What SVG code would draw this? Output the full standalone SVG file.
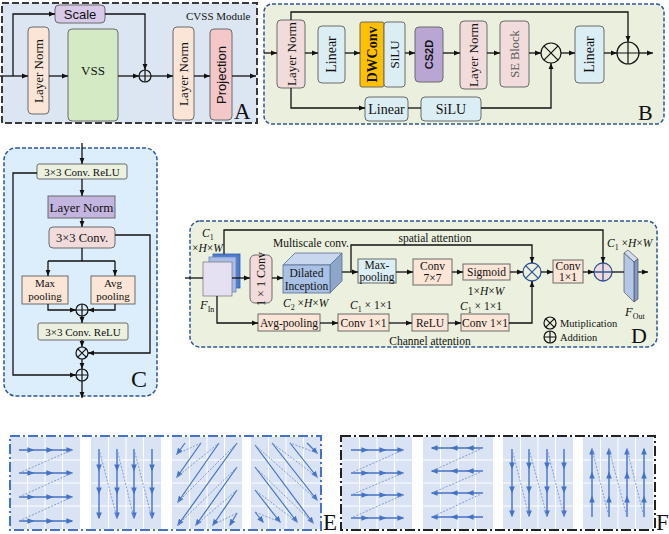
<svg xmlns="http://www.w3.org/2000/svg" width="669" height="534" viewBox="0 0 669 534">
<defs>
<style>
.sf{font-family:"Liberation Serif","Times New Roman",serif;fill:#111}
.ss{font-family:"Liberation Sans",Arial,sans-serif;fill:#111}
.c{text-anchor:middle}
.bx{stroke:#6b6b6b;stroke-width:1}
.ln{fill:none;stroke:#111;stroke-width:1.3}
.lna{fill:none;stroke:#111;stroke-width:1.3;marker-end:url(#ah)}
.ba{fill:none;stroke:#4472c4;stroke-width:1.4;marker-mid:url(#bh);marker-end:url(#bh)}
.bs{fill:none;stroke:#4472c4;stroke-width:1.2;marker-end:url(#bh)}
.bd{fill:none;stroke:#7f9bd6;stroke-width:1;stroke-dasharray:2 1.5}
.sym{fill:none;stroke:#111;stroke-width:1.2}
.dsym{fill:none;stroke:#2f5597;stroke-width:1.3}
</style>
<marker id="ah" viewBox="0 0 10 10" refX="10" refY="5" markerWidth="6" markerHeight="6" orient="auto" markerUnits="userSpaceOnUse"><path d="M0,1 L10,5 L0,9 z" fill="#111"/></marker>
<marker id="bh" viewBox="0 0 10 10" refX="8" refY="5" markerWidth="7" markerHeight="7" orient="auto" markerUnits="userSpaceOnUse"><path d="M0,1 L10,5 L0,9 z" fill="#4472c4"/></marker>
<g id="grid"><rect width="70" height="92" fill="#dae3f3"/><path d="M17.5,0V92M35,0V92M52.5,0V92M0,23H70M0,46H70M0,69H70" stroke="#fff" stroke-width="1"/></g>
</defs>
<rect width="669" height="534" fill="#fff"/>

<!-- Panel A -->
<g id="panelA">
<rect x="2" y="3" width="255" height="120" fill="#dce6f2" stroke="#3a3a3a" stroke-width="2" stroke-dasharray="7 3"/>
<text class="sf" x="186" y="20" font-size="11">CVSS Module</text>
<text class="sf" x="234" y="119" font-size="23">A</text>
</g>
<g id="A_scale"><rect class="bx" x="55" y="5" width="50" height="18" rx="4" fill="#d9c9e9"/><text class="ss c" x="80" y="19" font-size="13">Scale</text></g>
<g id="A_ln1"><rect class="bx" x="28" y="27" width="21" height="87" rx="4" fill="#fbe5d6"/><text class="sf c" x="38.5" y="71" font-size="13" dominant-baseline="central" transform="rotate(-90 38.5 71)">Layer Norm</text></g>
<g id="A_vss"><rect class="bx" x="68" y="29" width="50" height="92" rx="4" fill="#d3eac5"/><text class="sf c" x="93" y="75" font-size="13">VSS</text></g>
<g id="A_plus"><circle class="sym" cx="145" cy="76" r="6"/><path class="sym" d="M139,76H151M145,70V82"/></g>
<g id="A_ln2"><rect class="bx" x="173" y="27" width="21" height="93" rx="4" fill="#fbe5d6"/><text class="sf c" x="183.5" y="74" font-size="13" dominant-baseline="central" transform="rotate(-90 183.5 74)">Layer Norm</text></g>
<g id="A_proj"><rect class="bx" x="210" y="29" width="22" height="91" rx="4" fill="#f4c7c9"/><text class="ss c" x="221" y="75" font-size="13" dominant-baseline="central" transform="rotate(-90 221 75)">Projection</text></g>

<!-- Panel B -->
<g id="panelB">
<rect x="264" y="4" width="400" height="120" rx="8" fill="#ebf0de" stroke="#2f5597" stroke-width="1.5" stroke-dasharray="4 2"/>
<text class="sf" x="638" y="120" font-size="22">B</text>
</g>
<g id="B_ln1"><rect class="bx" x="277" y="20" width="28" height="68" rx="4" fill="#f2dcdb"/><text class="sf c" x="291" y="54" font-size="13" dominant-baseline="central" transform="rotate(-90 291 54)">Layer Norm</text></g>
<g id="B_lin1"><rect class="bx" x="318" y="26" width="27" height="57" rx="4" fill="#dbeef4"/><text class="sf c" x="331.5" y="54.5" font-size="14" dominant-baseline="central" transform="rotate(-90 331.5 54.5)">Linear</text></g>
<g id="B_dwconv"><rect class="bx" x="360" y="22" width="24" height="65" rx="2" fill="#ffc000"/><text class="sf c" x="372" y="54.5" font-size="14" font-weight="bold" dominant-baseline="central" transform="rotate(-90 372 54.5)">DWConv</text></g>
<g id="B_silu1"><rect class="bx" x="384" y="22" width="21" height="65" rx="3" fill="#dbeef4"/><text class="sf c" x="394.5" y="54.5" font-size="13" dominant-baseline="central" transform="rotate(-90 394.5 54.5)">SiLU</text></g>
<g id="B_cs2d"><rect class="bx" x="415" y="27" width="28" height="55" rx="4" fill="#b9a6d4"/><text class="ss c" x="429" y="54.5" font-size="11" font-weight="bold" dominant-baseline="central" transform="rotate(-90 429 54.5)">CS2D</text></g>
<g id="B_ln2"><rect class="bx" x="460" y="21" width="27" height="68" rx="4" fill="#f2dcdb"/><text class="sf c" x="473.5" y="55" font-size="13" dominant-baseline="central" transform="rotate(-90 473.5 55)">Layer Norm</text></g>
<g id="B_se"><rect class="bx" x="500" y="21" width="29" height="66" rx="4" fill="#f2dcdb"/><text class="sf c" x="514.5" y="54" font-size="12.5" style="fill:#555" dominant-baseline="central" transform="rotate(-90 514.5 54)">SE Block</text></g>
<g id="B_mul"><circle class="sym" cx="551" cy="53" r="10" fill="#fff"/><path class="sym" d="M543.9,45.9L558.1,60.1M558.1,45.9L543.9,60.1"/></g>
<g id="B_lin2"><rect class="bx" x="575" y="26" width="29" height="57" rx="4" fill="#dbeef4"/><text class="sf c" x="589.5" y="54.5" font-size="14" dominant-baseline="central" transform="rotate(-90 589.5 54.5)">Linear</text></g>
<g id="B_add"><circle class="sym" cx="628" cy="53" r="11" fill="#fff"/><path class="sym" d="M617,53H639M628,42V64"/></g>
<g id="B_lin3"><rect class="bx" x="365" y="97" width="43" height="24" rx="4" fill="#dbeef4"/><text class="sf c" x="386.5" y="113.5" font-size="14">Linear</text></g>
<g id="B_silu2"><rect class="bx" x="421" y="97" width="60" height="24" rx="4" fill="#dbeef4"/><text class="sf c" x="451" y="113.5" font-size="14">SiLU</text></g>

<!-- Panel C -->
<g id="panelC">
<rect x="4" y="148" width="153" height="248" rx="12" fill="#dceefb" stroke="#2f5597" stroke-width="1.5" stroke-dasharray="4 2"/>
<text class="sf" x="131" y="387" font-size="24">C</text>
</g>
<g id="C_conv1"><rect class="bx" x="37" y="164" width="90" height="15" rx="2" fill="#ebf1de"/><text class="sf c" x="82" y="175.5" font-size="11">3×3 Conv. ReLU</text></g>
<g id="C_ln"><rect class="bx" x="48" y="196" width="67" height="22" fill="#c3b5df"/><text class="sf c" x="81.5" y="211.5" font-size="13">Layer Norm</text></g>
<g id="C_conv"><rect class="bx" x="49" y="227" width="66" height="21" rx="4" fill="#f2dcdb"/><text class="sf c" x="82" y="242" font-size="12.5">3×3 Conv.</text></g>
<g id="C_max"><rect class="bx" x="22" y="276" width="46" height="28" fill="#fbe5d6"/><text class="sf c" x="45" y="286.5" font-size="11">Max</text><text class="sf c" x="45" y="300" font-size="11">pooling</text></g>
<g id="C_avg"><rect class="bx" x="91" y="276" width="44" height="28" fill="#fbe5d6"/><text class="sf c" x="113" y="286.5" font-size="11">Avg</text><text class="sf c" x="113" y="300" font-size="11">pooling</text></g>
<g id="C_add1"><circle class="sym" cx="82" cy="310" r="6"/><path class="sym" d="M76,310H88M82,304V316"/></g>
<g id="C_conv2"><rect class="bx" x="38" y="323" width="90" height="17" rx="2" fill="#ebf1de"/><text class="sf c" x="83" y="335.5" font-size="11">3×3 Conv. ReLU</text></g>
<g id="C_mul"><circle class="sym" cx="82" cy="353" r="6"/><path class="sym" d="M77.8,348.8L86.2,357.2M86.2,348.8L77.8,357.2"/></g>
<g id="C_add2"><circle class="sym" cx="82" cy="375" r="6"/><path class="sym" d="M76,375H88M82,369V381"/></g>

<!-- Panel D -->
<g id="panelD">
<rect x="190" y="221" width="467" height="126" rx="10" fill="#ebf1de" stroke="#2f5597" stroke-width="1.5" stroke-dasharray="4 2"/>
<text class="sf" x="631" y="343" font-size="22">D</text>
<text class="sf" x="202" y="237" font-size="11.5"><tspan font-style="italic">C</tspan><tspan font-size="8" dy="3">1</tspan></text>
<text class="sf" x="192" y="252" font-size="11.5">×<tspan font-style="italic">H</tspan>×<tspan font-style="italic">W</tspan></text>
<text class="sf" x="200" y="309" font-size="12.5"><tspan font-style="italic">F</tspan><tspan font-size="8" dy="3">In</tspan></text>
<text class="sf" x="273" y="247" font-size="11.5">Multiscale conv.</text>
<text class="sf" x="283" y="307" font-size="11.5"><tspan font-style="italic">C</tspan><tspan font-size="8" dy="3">2</tspan><tspan dy="-3"> ×</tspan><tspan font-style="italic">H</tspan>×<tspan font-style="italic">W</tspan></text>
<text class="sf c" x="435" y="242" font-size="11.5">spatial attention</text>
<text class="sf c" x="486" y="295" font-size="11.5">1×<tspan font-style="italic">H</tspan>×<tspan font-style="italic">W</tspan></text>
<text class="sf" x="350" y="309" font-size="11.5"><tspan font-style="italic">C</tspan><tspan font-size="8" dy="3">1</tspan><tspan dy="-3"> × 1×1</tspan></text>
<text class="sf" x="460" y="310" font-size="11.5"><tspan font-style="italic">C</tspan><tspan font-size="8" dy="3">1</tspan><tspan dy="-3"> × 1×1</tspan></text>
<text class="sf c" x="430" y="345" font-size="11.5">Channel attention</text>
<text class="sf" x="607" y="247" font-size="11.5"><tspan font-style="italic">C</tspan><tspan font-size="8" dy="3">1</tspan><tspan dy="-3"> ×</tspan><tspan font-style="italic">H</tspan>×<tspan font-style="italic">W</tspan></text>
<text class="sf" x="625" y="316" font-size="12.5"><tspan font-style="italic">F</tspan><tspan font-size="8" dy="3">Out</tspan></text>
<circle class="sym" cx="550" cy="323" r="6"/><path class="sym" d="M545.8,318.8L554.2,327.2M554.2,318.8L545.8,327.2"/>
<text class="sf" x="560" y="327" font-size="10.5">Mutiplication</text>
<circle class="sym" cx="550" cy="337" r="6"/><path class="sym" d="M544,337H556M550,331V343"/>
<text class="sf" x="560" y="341" font-size="10.5">Addition</text>
</g>
<g id="D_fin">
<rect x="213" y="254" width="27" height="34" fill="#4f7bd0" stroke="#3b5ea8" stroke-width="0.8"/>
<rect x="209" y="257" width="27" height="35" fill="#a9bce6" stroke="#6d86bf" stroke-width="0.8"/>
<rect x="203" y="262" width="29" height="34" fill="#e6e0f3" stroke="#7f7f7f" stroke-width="0.8"/>
</g>
<g id="D_conv1x1"><rect class="bx" x="250" y="255" width="22" height="48" rx="5" fill="#f2dcdb"/><text class="sf c" x="261" y="279" font-size="12" dominant-baseline="central" transform="rotate(-90 261 279)">1 × 1 Conv</text></g>
<g id="D_incep">
<polygon points="283,265 295,253 342,253 330,265" fill="#c9d7ee" stroke="#5a6f8f" stroke-width="0.8"/>
<polygon points="330,265 342,253 342,281 330,293" fill="#8ea6c9" stroke="#5a6f8f" stroke-width="0.8"/>
<rect x="283" y="265" width="47" height="28" fill="#a9c1e5" stroke="#5a6f8f" stroke-width="0.8"/>
<text class="sf c" x="306.5" y="277" font-size="11.5">Dilated</text><text class="sf c" x="306.5" y="290" font-size="11.5">Inception</text>
</g>
<g id="D_maxpool"><rect class="bx" x="358" y="259" width="38" height="24" fill="#dbeef4"/><text class="sf c" x="377" y="269" font-size="11.5">Max-</text><text class="sf c" x="377" y="281" font-size="11.5">pooling</text></g>
<g id="D_conv7"><rect class="bx" x="413" y="259" width="39" height="26" fill="#fbe5d6"/><text class="sf c" x="432.5" y="270" font-size="11.5">Conv</text><text class="sf c" x="432.5" y="282" font-size="11.5">7×7</text></g>
<g id="D_sig"><rect class="bx" x="463" y="264" width="47" height="16" fill="#fbe5d6"/><text class="sf c" x="486.5" y="276" font-size="11.5">Sigmoid</text></g>
<g id="D_mul"><circle class="dsym" cx="532" cy="272" r="9"/><path class="dsym" d="M525.6,265.6L538.4,278.4M538.4,265.6L525.6,278.4"/></g>
<g id="D_conv1b"><rect class="bx" x="553" y="260" width="30" height="23" fill="#fbe5d6"/><text class="sf c" x="568" y="270" font-size="11.5">Conv</text><text class="sf c" x="568" y="281" font-size="11.5">1×1</text></g>
<g id="D_add"><circle cx="603" cy="272" r="9" fill="#f2dcdb" stroke="#2f5597" stroke-width="1.3"/><path class="dsym" d="M594,272H612M603,263V281"/></g>
<g id="D_fout">
<polygon points="624,253 628,250 638,259 634,262" fill="#d0dcf0" stroke="#555" stroke-width="0.7"/>
<polygon points="634,262 638,259 638,299 634,302" fill="#7f9bd0" stroke="#555" stroke-width="0.7"/>
<polygon points="624,253 634,262 634,302 624,292" fill="#b4c7e7" stroke="#555" stroke-width="0.7"/>
</g>
<g id="D_avg"><rect class="bx" x="258" y="314" width="62" height="17" fill="#fbe5d6"/><text class="sf c" x="289" y="326.5" font-size="11.5">Avg-pooling</text></g>
<g id="D_c1"><rect class="bx" x="338" y="314" width="51" height="17" fill="#fbe5d6"/><text class="sf c" x="363.5" y="326.5" font-size="11.5">Conv 1×1</text></g>
<g id="D_relu"><rect class="bx" x="412" y="314" width="36" height="17" fill="#fbe5d6"/><text class="sf c" x="430" y="326.5" font-size="11.5">ReLU</text></g>
<g id="D_c2"><rect class="bx" x="461" y="314" width="48" height="17" fill="#fbe5d6"/><text class="sf c" x="485" y="326.5" font-size="11.5">Conv 1×1</text></g>

<!-- Connectors -->
<g id="connectors">
<path class="lna" d="M0,76H28"/>
<path class="lna" d="M13,76V14H55"/>
<path class="lna" d="M49,76H68"/>
<path class="lna" d="M118,76H139"/>
<path class="lna" d="M105,14H145V70"/>
<path class="lna" d="M151,76H173"/>
<path class="lna" d="M194,76H210"/>
<path class="lna" d="M232,76H256"/>
<path class="lna" d="M264,53H277"/>
<path class="lna" d="M305,53H318"/>
<path class="lna" d="M345,53H360"/>
<path class="lna" d="M405,53H415"/>
<path class="lna" d="M443,53H460"/>
<path class="lna" d="M487,53H500"/>
<path class="lna" d="M529,53H541"/>
<path class="lna" d="M561,53H575"/>
<path class="lna" d="M604,53H617"/>
<path class="lna" d="M639,53H653"/>
<path class="lna" d="M291,20V12H628V42"/>
<path class="lna" d="M291,88V108H365"/>
<path class="ln" d="M408,108H421"/>
<path class="lna" d="M481,108H551V63"/>
<path class="lna" d="M82,143V164"/>
<path class="lna" d="M82,179V196"/>
<path class="lna" d="M82,218V227"/>
<path class="ln" d="M82,248V261M48,261H115"/>
<path class="lna" d="M48,261V276"/>
<path class="lna" d="M115,261V276"/>
<path class="lna" d="M48,304V310H76"/>
<path class="lna" d="M115,304V310H88"/>
<path class="lna" d="M82,316V323"/>
<path class="lna" d="M82,340V347"/>
<path class="lna" d="M115,235H150V353H88"/>
<path class="lna" d="M37,173H13V375H76"/>
<path class="lna" d="M82,359V369"/>
<path class="lna" d="M82,381V398"/>
<path class="ln" d="M185,278H203"/>
<path class="lna" d="M232,278H250"/>
<path class="lna" d="M272,278H283"/>
<path class="lna" d="M224,254V230H603V263"/>
<path class="lna" d="M342,272H358"/>
<path class="lna" d="M351,272V245H532V263"/>
<path class="lna" d="M396,272H413"/>
<path class="lna" d="M452,272H463"/>
<path class="lna" d="M510,272H523"/>
<path class="lna" d="M541,272H553"/>
<path class="lna" d="M583,272H594"/>
<path class="ln" d="M612,272H624"/>
<path class="lna" d="M638,272H648"/>
<path class="lna" d="M217,296V323H258"/>
<path class="lna" d="M320,323H338"/>
<path class="lna" d="M389,323H412"/>
<path class="lna" d="M448,323H461"/>
<path class="lna" d="M509,323H532V281"/>
</g>

<!-- Panel E -->
<g id="panelE">
<use href="#grid" x="10" y="437"/>
<use href="#grid" x="91" y="437"/>
<use href="#grid" x="172" y="437"/>
<use href="#grid" x="251" y="437"/>
<g transform="translate(10,437)">
<polyline class="ba" points="9,13 23,13 42,13 62,13"/>
<polyline class="ba" points="9,36 23,36 42,36 62,36"/>
<polyline class="ba" points="9,60 23,60 42,60 62,60"/>
<polyline class="ba" points="9,84 23,84 42,84 62,84"/>
<path class="bd" d="M62,13L9,36M62,36L9,60M62,60L9,84"/>
</g>
<g transform="translate(91,437)">
<polyline class="ba" points="8,12 8,33 8,56 8,81"/>
<polyline class="ba" points="26,12 26,33 26,56 26,81"/>
<polyline class="ba" points="43,12 43,33 43,56 43,81"/>
<polyline class="ba" points="61,12 61,33 61,56 61,81"/>
<path class="bd" d="M8,12L26,81M26,12L43,81M43,12L61,81"/>
</g>
<g transform="translate(172,437)">
<path class="bs" d="M13,6L5,17"/>
<path class="bs" d="M29,6L5,40"/>
<path class="bs" d="M47,6L6,65"/>
<path class="bs" d="M65,6L6,88"/>
<path class="bs" d="M65,30L24,88"/>
<path class="bs" d="M65,53L41,88"/>
<path class="bs" d="M65,76L58,88"/>
<path class="bd" d="M5,17L29,6M5,40L47,6M6,65L65,6M6,88L65,30M24,88L65,53M41,88L65,76"/>
</g>
<g transform="translate(251,437)">
<path class="bs" d="M56,6L66,16"/>
<path class="bs" d="M39,6L66,40"/>
<path class="bs" d="M21,6L66,63"/>
<path class="bs" d="M4,8L62,86"/>
<path class="bs" d="M4,30L46,85"/>
<path class="bs" d="M4,53L29,85"/>
<path class="bs" d="M4,75L12,85"/>
<path class="bd" d="M66,16L39,6M66,40L21,6M66,63L4,8M62,86L4,30M46,85L4,53M29,85L4,75"/>
</g>
<rect x="10" y="436" width="311" height="94" fill="none" stroke="#4472c4" stroke-width="2" stroke-dasharray="10 3 2 3"/>
<text class="sf" x="323" y="530" font-size="23">E</text>
</g>

<!-- Panel F -->
<g id="panelF">
<use href="#grid" x="342" y="437"/>
<use href="#grid" x="423" y="437"/>
<use href="#grid" x="503" y="437"/>
<use href="#grid" x="583" y="437"/>
<g transform="translate(342,437)">
<polyline class="ba" points="9,13 25,13 43,13 61,13"/>
<polyline class="ba" points="9,36 25,36 43,36 61,36"/>
<polyline class="ba" points="9,58 25,58 43,58 61,58"/>
<polyline class="ba" points="9,81 25,81 43,81 61,81"/>
<path class="bd" d="M61,13L9,36M61,36L9,58M61,58L9,81"/>
</g>
<g transform="translate(423,437)">
<polyline class="ba" points="60,11 45,11 29,11 9,11"/>
<polyline class="ba" points="60,34 45,34 29,34 9,34"/>
<polyline class="ba" points="60,56 45,56 29,56 9,56"/>
<polyline class="ba" points="60,80 45,80 29,80 9,80"/>
<path class="bd" d="M60,11L9,34M60,34L9,56M60,56L9,80"/>
</g>
<g transform="translate(503,437)">
<polyline class="ba" points="9,12 9,31 9,55 9,79"/>
<polyline class="ba" points="26,12 26,31 26,55 26,79"/>
<polyline class="ba" points="44,12 44,31 44,55 44,79"/>
<polyline class="ba" points="61,12 61,31 61,55 61,79"/>
<path class="bd" d="M9,12L26,79M26,12L44,79M44,12L61,79"/>
</g>
<g transform="translate(583,437)">
<polyline class="ba" points="9,80 9,60 9,36 9,12"/>
<polyline class="ba" points="26,80 26,60 26,36 26,12"/>
<polyline class="ba" points="44,80 44,60 44,36 44,12"/>
<polyline class="ba" points="61,80 61,60 61,36 61,12"/>
<path class="bd" d="M9,12L26,80M26,12L44,80M44,12L61,80"/>
</g>
<rect x="341" y="436" width="314" height="94" fill="none" stroke="#222" stroke-width="2" stroke-dasharray="10 3 2 3"/>
<text class="sf" x="656" y="530" font-size="23">F</text>
</g>
</svg>
